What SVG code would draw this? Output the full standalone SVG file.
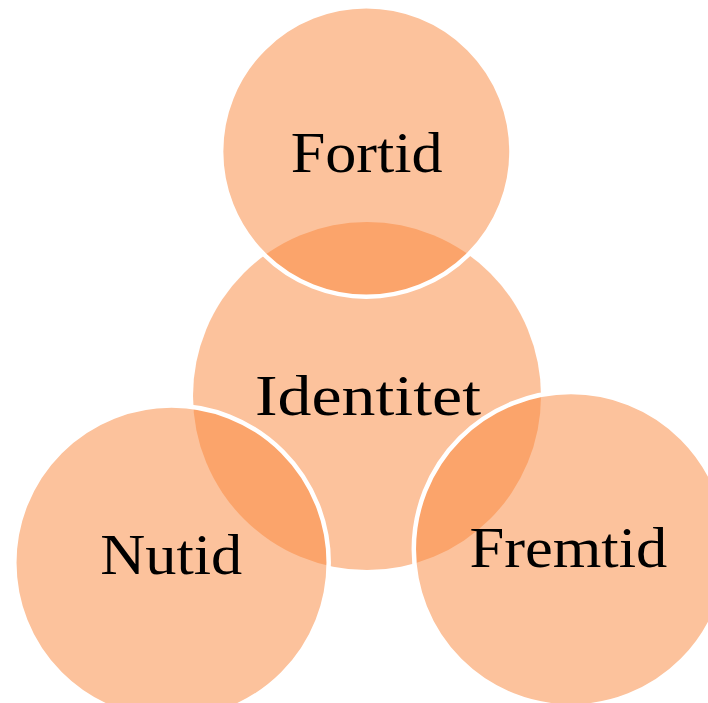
<svg xmlns="http://www.w3.org/2000/svg" width="708" height="703" viewBox="0 0 708 703">
<style>
.c{fill:rgb(250,134,58);fill-opacity:0.5}
.s{stroke:#fff;stroke-width:4.5}
.t{font-family:"Liberation Serif","Times New Roman",serif;font-size:57px;fill:#000;text-anchor:middle}
</style>
<rect width="708" height="703" fill="#fff"/>
<g id="identitet">
<circle class="c" cx="367" cy="396" r="174"/>
<text class="t" x="368" y="415" textLength="226" lengthAdjust="spacingAndGlyphs">Identitet</text>
</g>
<g id="fortid">
<circle class="c s" cx="366.3" cy="151.5" r="145.2"/>
<text class="t" x="366.7" y="171.7" textLength="152" lengthAdjust="spacingAndGlyphs">Fortid</text>
</g>
<g id="nutid">
<circle class="c s" cx="171.5" cy="562.7" r="157.2"/>
<text class="t" x="171.3" y="574.3" textLength="142" lengthAdjust="spacingAndGlyphs">Nutid</text>
</g>
<g id="fremtid">
<circle class="c s" cx="571" cy="549.3" r="157.2"/>
<text class="t" x="568.4" y="567.3" textLength="198" lengthAdjust="spacingAndGlyphs">Fremtid</text>
</g>
<g id="connectors"></g>
</svg>
